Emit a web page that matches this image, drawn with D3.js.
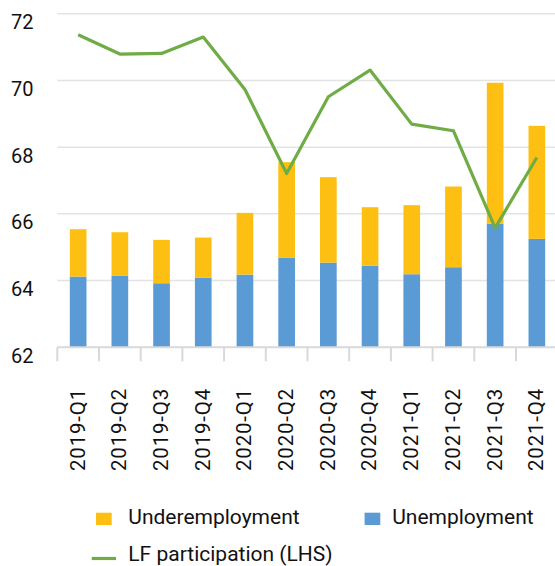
<!DOCTYPE html>
<html>
<head>
<meta charset="utf-8">
<script src="https://cdn.jsdelivr.net/npm/d3@7"></script>
<style>
  html, body { margin: 0; padding: 0; background: #fff; }
  svg { display: block; font-family: Roboto, "Noto Sans", sans-serif; }
</style>
</head>
<body>
<svg id="chart" width="555" height="566"></svg>
<script>
// Quarterly labour market data
const quarters = ["2019-Q1","2019-Q2","2019-Q3","2019-Q4","2020-Q1","2020-Q2",
                  "2020-Q3","2020-Q4","2021-Q1","2021-Q2","2021-Q3","2021-Q4"];
// Rates in percent (right-hand scale, not drawn)
const unemployment    = [2.12, 2.14, 1.92, 2.09, 2.18, 2.68, 2.54, 2.45, 2.19, 2.40, 3.70, 3.25];
const underemployment = [1.42, 1.31, 1.30, 1.20, 1.85, 2.87, 2.56, 1.75, 2.07, 2.42, 4.23, 3.39];
// Labour force participation rate in percent (left-hand scale)
const participation   = [71.37, 70.79, 70.81, 71.30, 69.73, 67.21, 69.51, 70.31, 68.69, 68.49, 65.58, 67.69];
const leftTicks = [62, 64, 66, 68, 70, 72];

const svg = d3.select("#chart");
const plot = { left: 57.3, right: 557.7, top: 13.7, bottom: 347.3 };

const x = d3.scaleBand().domain(quarters).range([plot.left, plot.right]).padding(0);
const yL = d3.scaleLinear().domain([62, 72]).range([plot.bottom, plot.top]);
const yR = d3.scaleLinear().domain([0, 10]).range([plot.bottom, plot.top]);

const barW = x.bandwidth() * 0.4;
const cx = d => x(d) + x.bandwidth() / 2;

// Horizontal gridlines
svg.append("g").selectAll("line")
  .data(leftTicks.slice(1))
  .join("line")
  .attr("x1", plot.left).attr("x2", 555)
  .attr("y1", d => yL(d)).attr("y2", d => yL(d))
  .attr("stroke", "#e3e3e3").attr("stroke-width", 1.5);

// Left axis labels
svg.append("g").selectAll("text")
  .data(leftTicks)
  .join("text")
  .attr("x", 33.5)
  .attr("y", d => yL(d) + 15.5)
  .attr("text-anchor", "end")
  .attr("font-size", 20)
  .attr("fill", "#111")
  .text(d => d);

// Stacked bars
const stackRows = quarters.map((q, i) => ({ q, unemp: unemployment[i], under: underemployment[i] }));
const series = d3.stack().keys(["unemp", "under"])(stackRows);
const colors = { unemp: "#5B9BD5", under: "#FDC012" };

svg.append("g").selectAll("g")
  .data(series)
  .join("g")
  .attr("fill", s => colors[s.key])
  .selectAll("rect")
  .data(s => s)
  .join("rect")
  .attr("x", d => cx(d.data.q) - barW / 2)
  .attr("width", barW)
  .attr("y", d => yR(d[1]))
  .attr("height", d => yR(d[0]) - yR(d[1]));

// Category axis
const xAxis = svg.append("g");
xAxis.append("line")
  .attr("x1", plot.left).attr("x2", 555)
  .attr("y1", plot.bottom).attr("y2", plot.bottom)
  .attr("stroke", "#d9d9d9").attr("stroke-width", 2);
xAxis.selectAll("line.tick")
  .data(quarters)
  .join("line")
  .attr("class", "tick")
  .attr("x1", d => x(d)).attr("x2", d => x(d))
  .attr("y1", plot.bottom).attr("y2", plot.bottom + 14)
  .attr("stroke", "#d9d9d9").attr("stroke-width", 2);
xAxis.selectAll("text")
  .data(quarters)
  .join("text")
  .attr("transform", d => `translate(${cx(d) - 0.8},388) rotate(-90)`)
  .attr("dy", "0.35em")
  .attr("text-anchor", "end")
  .attr("font-size", 20.5)
  .attr("letter-spacing", 0.8)
  .attr("fill", "#111")
  .text(d => d);

// Participation line
const line = d3.line().x((d, i) => cx(quarters[i])).y(d => yL(d));
svg.append("path")
  .datum(participation)
  .attr("d", line)
  .attr("fill", "none")
  .attr("stroke", "#6FAC45")
  .attr("stroke-width", 3.2)
  .attr("stroke-linejoin", "round");

// Legend
const legend = svg.append("g").attr("font-size", 21).attr("fill", "#111");
legend.append("rect").attr("x", 96).attr("y", 512.7).attr("width", 15.7).attr("height", 12.3).attr("fill", colors.under);
legend.append("text").attr("x", 128.3).attr("y", 524.3).text("Underemployment");
legend.append("rect").attr("x", 364.6).attr("y", 512.7).attr("width", 15.7).attr("height", 12.3).attr("fill", colors.unemp);
legend.append("text").attr("x", 392.2).attr("y", 524.3).text("Unemployment");
legend.append("line").attr("x1", 91.7).attr("x2", 116).attr("y1", 558.5).attr("y2", 558.5)
  .attr("stroke", "#6FAC45").attr("stroke-width", 3.2);
legend.append("text").attr("x", 128.3).attr("y", 561.4).text("LF participation (LHS)");
</script>
</body>
</html>
